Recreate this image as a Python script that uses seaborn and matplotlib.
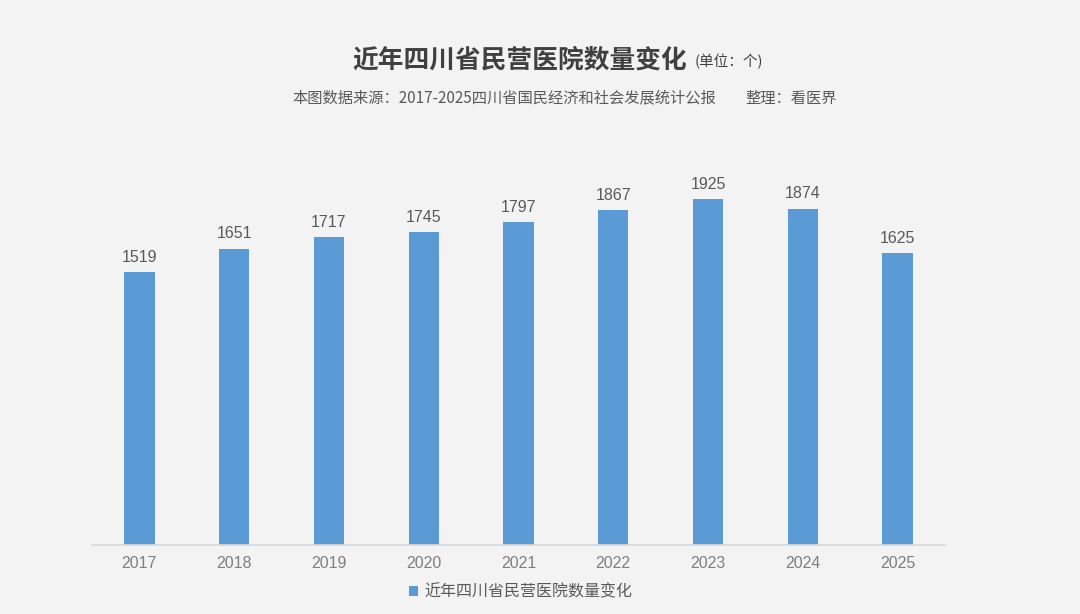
import pandas as pd
import seaborn as sns
import matplotlib.pyplot as plt

# values
years = ["2017", "2018", "2019", "2020", "2021", "2022", "2023", "2024", "2025"]
hospitals = [1519, 1651, 1717, 1745, 1797, 1867, 1925, 1874, 1625]
series_name = "近年四川省民营医院数量变化"

df = pd.DataFrame({"year": years, "count": hospitals})

sns.set_theme(style="white")
plt.rcParams["font.family"] = ["Noto Sans CJK SC", "DejaVu Sans"]

bg = "#f3f3f3"
blue = "#5b9bd5"

fig = plt.figure(figsize=(10.8, 6.14), dpi=100, facecolor=bg)
ax = fig.add_axes([0.0852, 0.1124, 0.7898, 0.6433], facecolor=bg)

sns.barplot(data=df, x="year", y="count", color=blue, width=0.32,
            saturation=1, linewidth=0, ax=ax, label=series_name)

ax.set_ylim(0, 2200)
ax.set_xlim(-0.5, len(years) - 0.5)
ax.set_xlabel("")
ax.set_ylabel("")
ax.set_yticks([])
for side in ["top", "right", "left"]:
    ax.spines[side].set_visible(False)
ax.spines["bottom"].set_color("#d9d9d9")
ax.spines["bottom"].set_linewidth(1.2)
ax.tick_params(axis="x", length=0, pad=8, labelsize=11.5, labelcolor="#7f7f7f")
for lab in ax.get_xticklabels():
    lab.set_fontfamily(["Liberation Sans", "DejaVu Sans"])

for i, v in enumerate(hospitals):
    ax.text(i, v + 40, str(v), ha="center", va="bottom", fontsize=11.5,
            color="#595959", family=["Liberation Sans", "DejaVu Sans"])

# title and subtitle
fig.text(0.636, 0.902, "近年四川省民营医院数量变化", ha="right", va="center",
         fontsize=18.5, fontweight="bold", color="#404040")
fig.text(0.643, 0.900, "(单位：个)", ha="left", va="center",
         fontsize=10.5, color="#404040")
fig.text(0.271, 0.840, "本图数据来源：2017-2025四川省国民经济和社会发展统计公报", ha="left",
         va="center", fontsize=11, color="#595959")
fig.text(0.690, 0.840, "整理：看医界", ha="left", va="center",
         fontsize=11, color="#595959")

leg = ax.legend(loc="center", bbox_to_anchor=(0.482, 0.036),
                bbox_transform=fig.transFigure, frameon=False,
                handlelength=0.6, handleheight=0.6, handletextpad=0.4,
                fontsize=11.5)
for t in leg.get_texts():
    t.set_color("#595959")

fig.savefig("out.png", dpi=100, facecolor=bg)
